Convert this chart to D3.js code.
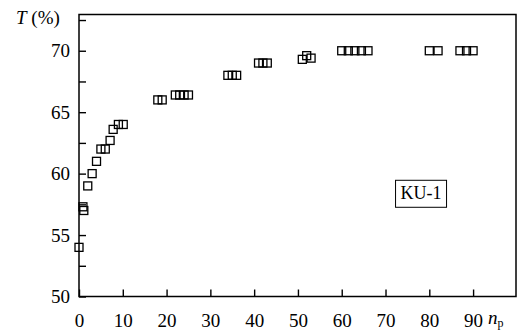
<!DOCTYPE html>
<html>
<head>
<meta charset="utf-8">
<script src="https://cdn.jsdelivr.net/npm/d3@7"></script>
<style>
  body { margin: 0; background: #fff; }
  svg text { font-family: "Liberation Serif", "DejaVu Serif", serif; fill: #000; }
</style>
</head>
<body>
<div id="chart"></div>
<script>
// measured points (n_p, T %)
const npValues = [0, 0.9, 1.1, 2, 3, 4, 5, 6, 7.1, 7.8, 9, 10.1,
                  18, 19, 22, 23, 24, 25,
                  34, 35, 36, 41, 42, 43,
                  51, 52, 53,
                  60, 61.5, 63, 64.5, 66,
                  80, 82, 87, 88.5, 90];
const tValues = [54, 57.3, 57, 59, 60, 61, 62, 62, 62.7, 63.6, 64, 64,
                 66, 66, 66.4, 66.4, 66.4, 66.4,
                 68, 68, 68, 69, 69, 69,
                 69.3, 69.6, 69.4,
                 70, 70, 70, 70, 70,
                 70, 70, 70, 70, 70];
const xTicks = [0, 10, 20, 30, 40, 50, 60, 70, 80, 90];
const yTicks = [50, 52.5, 55, 57.5, 60, 62.5, 65, 67.5, 70, 72.5];
const sampleLabel = 'KU-1';

const W = 521, H = 331;
const margin = { top: 14.5, right: 5, bottom: 34.5, left: 79 };
const width = W - margin.left - margin.right;
const height = H - margin.top - margin.bottom;

const svg = d3.select('#chart')
  .append('svg')
    .attr('width', W)
    .attr('height', H);

const g = svg.append('g')
  .attr('transform', `translate(${margin.left},${margin.top})`);

const x = d3.scaleLinear().domain([0, 99.8]).range([0, width]);
const y = d3.scaleLinear().domain([50, 72.95]).range([height, 0]);

// x axis, ticks pointing inward
const xAxis = g.append('g')
  .attr('transform', `translate(0,${height})`)
  .call(d3.axisBottom(x).tickValues(xTicks).tickSizeInner(-7).tickSizeOuter(0).tickPadding(17));
xAxis.select('.domain').remove();

const yAxis = g.append('g')
  .call(d3.axisLeft(y).tickValues(yTicks).tickSizeInner(-7).tickSizeOuter(0).tickPadding(9)
    .tickFormat(d => d % 5 === 0 ? d : ''));
yAxis.select('.domain').remove();

svg.selectAll('.tick line').attr('stroke', '#000').attr('stroke-width', 1.4);
svg.selectAll('.tick text').style('font-size', '19px');

g.append('rect')
  .attr('width', width)
  .attr('height', height)
  .attr('fill', 'none')
  .attr('stroke', '#000')
  .attr('stroke-width', 1.5);

// markers
const s = 8;
g.selectAll('.pt')
  .data(npValues.map((v, i) => [v, tValues[i]]))
  .enter()
  .append('rect')
    .attr('class', 'pt')
    .attr('x', d => x(d[0]) - s / 2)
    .attr('y', d => y(d[1]) - s / 2)
    .attr('width', s)
    .attr('height', s)
    .attr('fill', 'none')
    .attr('stroke', '#000')
    .attr('stroke-width', 1.3);

// label box
const lx = x(78), ly = y(58.4);
g.append('rect')
  .attr('x', lx - 25)
  .attr('y', ly - 13)
  .attr('width', 51)
  .attr('height', 27)
  .attr('fill', '#fff')
  .attr('stroke', '#000')
  .attr('stroke-width', 1);
g.append('text')
  .attr('x', lx + 0.5)
  .attr('y', ly + 6)
  .attr('text-anchor', 'middle')
  .style('font-size', '18px')
  .text(sampleLabel);

// axis titles
const yt = svg.append('text')
  .attr('x', 16)
  .attr('y', 24)
  .style('font-size', '19px');
yt.append('tspan').style('font-style', 'italic').text('T');
yt.append('tspan').text(' (%)');

const xt = svg.append('text')
  .attr('x', 488)
  .attr('y', 324)
  .style('font-size', '19px');
xt.append('tspan').style('font-style', 'italic').text('n');
xt.append('tspan').attr('dy', 2.5).style('font-size', '12px').text('p');
</script>
</body>
</html>
